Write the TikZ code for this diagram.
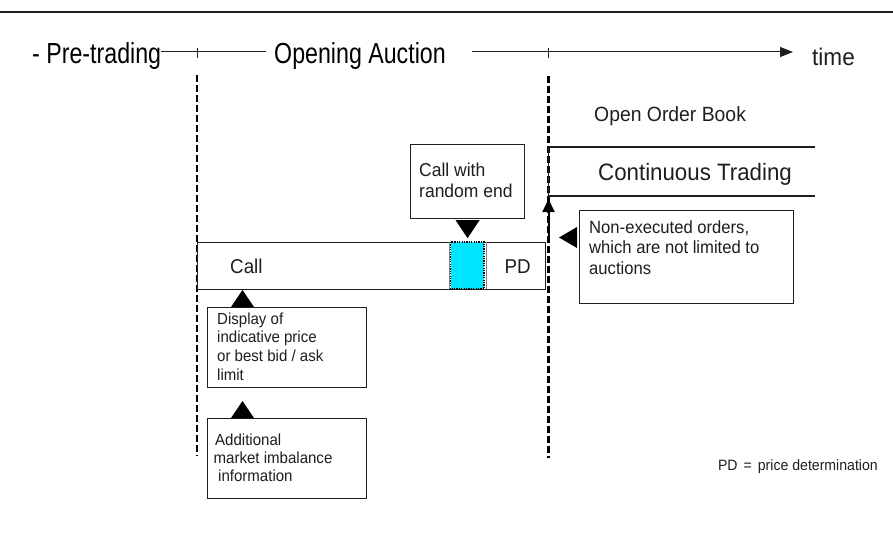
\documentclass[tikz,border=0pt]{standalone}
\usepackage{fontspec}
\setmainfont{Liberation Sans}[FakeStretch=0.94]
\newfontfamily\narrowfont{Liberation Sans}[FakeStretch=0.8]
\usetikzlibrary{arrows.meta,calc}
\definecolor{ink}{HTML}{1E1E1E}
\definecolor{cyanfill}{HTML}{00E5FF}
\newcommand{\setfs}[2]{\fontsize{#1}{#2}\selectfont}
\begin{document}
\begin{tikzpicture}[x=1pt,y=-1pt,
  txt/.style={inner sep=0pt, text=ink, align=left},
  title/.style={inner sep=0pt, text=black, font=\narrowfont\setfs{29}{34}},
  boxshape/.style={draw=ink, line width=1.2pt, fill=white, inner sep=0pt, anchor=north west},
  phase/.style={draw=black, line width=2.2pt, dash pattern=on 6.5pt off 3.5pt},
  axis/.style={draw=ink, line width=1pt},
  pointer/.style={fill=black, draw=none},
]
\useasboundingbox (0,0) rectangle (893,543);

% top rule
\coordinate (ruleL) at (0,12);
\coordinate (ruleR) at (893,12);
\draw[draw=ink, line width=1.3pt] (ruleL) -- (ruleR);

% phase boundaries
\coordinate (m1) at (197,52);
\coordinate (m2) at (548.5,52);
\coordinate (d1top) at (197,75);
\coordinate (d1bot) at (197,456);
\coordinate (d2top) at (548.5,76);
\coordinate (d2bot) at (548.5,458);
\draw[phase] (d1top) -- (d1bot);
\draw[phase] (d2top) -- (d2bot);

% timeline
\node[title, anchor=base west] (pre) at (32,63.5) {- Pre-trading};
\node[title, anchor=base] (oa) at (360,63.5) {Opening Auction};
\node[txt, anchor=base west, font=\setfs{24}{28}] (time) at (812,65) {time};
\coordinate (l1) at (266,52);
\coordinate (a0) at (472,52);
\coordinate (a1) at (793,52);
\draw[axis] (pre.east |- m1) -- (l1);
\draw[axis, -{Triangle[length=13pt,width=10pt]}] (a0) -- (a1);
\draw[axis] ($(m1)+(0,-4)$) -- ($(m1)+(0,6)$);
\draw[axis] ($(m2)+(0,-4)$) -- ($(m2)+(0,6)$);

% continuous trading
\coordinate (ctNW) at (548.5,147);
\coordinate (ctNE) at (815,147);
\coordinate (ctSW) at (548.5,196);
\coordinate (ctSE) at (815,196);
\draw[draw=ink, line width=1.2pt] (ctNE) -- (ctNW) -- (ctSW) -- (ctSE);
\node[txt, anchor=base west, font=\setfs{23.7}{28}] (ct) at (598,180.7) {Continuous Trading};
\node[txt, anchor=base west, font=\setfs{20.6}{24}] (oob) at (594,121.7) {Open Order Book};

% call box
\node[boxshape, minimum width=348pt, minimum height=47pt] (callbox) at (197,242) {};
\coordinate (g1t) at (449,242);
\coordinate (g1b) at (449,289);
\coordinate (g2t) at (486,242);
\coordinate (g2b) at (486,289);
\draw[draw=gray, line width=0.8pt] (g1t) -- (g1b);
\draw[draw=gray, line width=0.8pt] (g2t) -- (g2b);
\coordinate (cyNW) at (450.5,242);
\coordinate (cySE) at (484,289);
\draw[fill=cyanfill, draw=black, line width=1.2pt, dash pattern=on 1.2pt off 1.2pt] (cyNW) rectangle (cySE);
\node[txt, anchor=base west, font=\setfs{20}{24}] (call) at (230,273.3) {Call};
\node[txt, anchor=base west, font=\setfs{20}{24}] (pd) at (504.5,273.3) {PD};

% random end box
\node[boxshape, minimum width=114pt, minimum height=74pt] (cw) at (410,144) {};
\node[txt, anchor=base west, font=\setfs{18.6}{21.3}] (cwt) at (419,197.3) {Call with\\random end};
\fill[pointer] ($(cw.south)+(-12,1)$) -- ($(cw.south)+(12,1)$) -- ($(cw.south)+(0,19)$) -- cycle;

% up arrow into continuous trading
\coordinate (upS) at (548.5,241);
\draw[draw=black, line width=2pt, -{Triangle[length=13pt,width=12pt]}] (upS) -- ($(ctSW)+(0,3)$);

% non-executed orders
\node[boxshape, minimum width=214pt, minimum height=93pt] (ne) at (579,210) {};
\node[txt, anchor=base west, font=\setfs{17.7}{20.5}] (net) at (589,274.3) {Non-executed orders,\\which are not limited to\\auctions};
\fill[pointer] ($(ne.north west)+(-2,17)$) -- ($(ne.north west)+(-2,38)$) -- ($(ne.north west)+(-20,27.5)$) -- cycle;

% display box
\node[boxshape, minimum width=159pt, minimum height=80pt] (disp) at (207,307) {};
\node[txt, anchor=base west, font=\setfs{16}{18.6}] (dispt) at (217,380) {Display of\\indicative price\\or best bid / ask\\limit};
\fill[pointer] ($(disp.north west)+(24,0)$) -- ($(disp.north west)+(47,0)$) -- ($(disp.north west)+(35.5,-17)$) -- cycle;

% additional info box
\node[boxshape, minimum width=159pt, minimum height=80pt] (add) at (207,418) {};
\node[txt, anchor=base west, font=\setfs{16}{18.3}] (addt) at (213.5,481.7) {\hspace*{1.5pt}Additional\\market imbalance\\\hspace*{4.5pt}information};
\fill[pointer] ($(add.north west)+(24,0)$) -- ($(add.north west)+(47,0)$) -- ($(add.north west)+(35.5,-17)$) -- cycle;

% legend
\node[txt, anchor=base east, font=\setfs{15}{18}] (legend) at (878,470) {PD\hspace{6pt}=\hspace{6pt}price determination};
\end{tikzpicture}
\end{document}
